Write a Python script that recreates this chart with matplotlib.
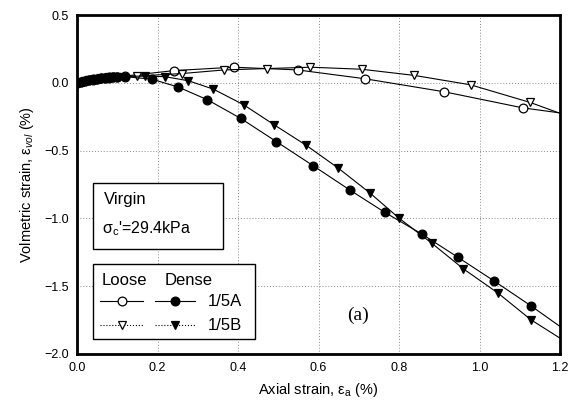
import matplotlib
matplotlib.use("Agg")
import matplotlib.pyplot as plt
from matplotlib.lines import Line2D
from matplotlib.patches import Rectangle

plt.rcParams['font.family'] = ['Liberation Sans', 'DejaVu Sans']
plt.rcParams['mathtext.fontset'] = 'custom'
plt.rcParams['mathtext.rm'] = 'Liberation Sans'
plt.rcParams['mathtext.it'] = 'Liberation Sans:italic'

# ---- data (axial strain %, volumetric strain %) ----
early_x = [0.0, 0.01, 0.02, 0.03, 0.04, 0.05, 0.06, 0.07, 0.08, 0.09, 0.10]

loose_a_x = early_x + [0.12, 0.241, 0.389, 0.548, 0.715, 0.912, 1.108, 1.2]
loose_a_y = [0.0, 0.008, 0.014, 0.019, 0.024, 0.028, 0.032, 0.036, 0.039, 0.042, 0.045,
             0.05, 0.09, 0.115, 0.095, 0.03, -0.066, -0.185, -0.222]

loose_b_x = early_x + [0.15, 0.26, 0.366, 0.472, 0.58, 0.707, 0.837, 0.978, 1.126, 1.2]
loose_b_y = [0.0, 0.006, 0.012, 0.018, 0.022, 0.027, 0.031, 0.035, 0.038, 0.041, 0.044,
             0.05, 0.068, 0.095, 0.105, 0.115, 0.10, 0.055, -0.015, -0.145, -0.225]

dense_a_x = early_x + [0.12, 0.186, 0.252, 0.324, 0.407, 0.495, 0.586, 0.678, 0.765,
                       0.856, 0.946, 1.037, 1.128, 1.2]
dense_a_y = [0.0, 0.009, 0.016, 0.022, 0.027, 0.031, 0.035, 0.038, 0.041, 0.043, 0.045,
             0.045, 0.027, -0.032, -0.125, -0.263, -0.433, -0.61, -0.791, -0.956,
             -1.114, -1.286, -1.463, -1.645, -1.797]

dense_b_x = early_x + [0.17, 0.219, 0.277, 0.339, 0.414, 0.49, 0.57, 0.649, 0.728, 0.80,
                       0.881, 0.96, 1.046, 1.128, 1.2]
dense_b_y = [0.0, 0.007, 0.013, 0.019, 0.024, 0.028, 0.032, 0.036, 0.04, 0.043, 0.046,
             0.05, 0.045, 0.015, -0.047, -0.162, -0.31, -0.462, -0.629, -0.813, -0.998,
             -1.182, -1.372, -1.551, -1.748, -1.883]

xticks = [0.0, 0.2, 0.4, 0.6, 0.8, 1.0, 1.2]
yticks = [-2.0, -1.5, -1.0, -0.5, 0.0, 0.5]

fig = plt.figure(figsize=(5.71, 4.03), dpi=100)
ax = fig.add_axes([77/571, 1-354/403, (560-77)/571, (354-15)/403])

ms = 6.3
lw = 0.8
series = [
    (loose_a_x, loose_a_y, 'o', 'white'),
    (loose_b_x, loose_b_y, 'v', 'white'),
    (dense_a_x, dense_a_y, 'o', 'black'),
    (dense_b_x, dense_b_y, 'v', 'black'),
]
for xs, ys, mk, fc in series:
    ax.plot(xs, ys, '-', color='black', lw=lw, marker=mk, ms=ms,
            mfc=fc, mec='black', mew=0.9, markevery=list(range(len(xs) - 1)))

ax.set_xlim(0, 1.2)
ax.set_ylim(-2.0, 0.5)
ax.set_xticks(xticks)
ax.set_yticks(yticks)
ax.set_xticklabels([f"{v:.1f}" for v in xticks])
ax.set_yticklabels([f"{v:.1f}".replace('-', '\u2212') for v in yticks])
ax.tick_params(length=0, labelsize=9, pad=6)
ax.grid(True, ls=(0, (1, 2)), color='#888888', lw=0.7)
for s in ax.spines.values():
    s.set_linewidth(2.0)

ax.set_xlabel("Axial strain, ε$_{\\rm a}$ (%)", fontsize=10.5, labelpad=5)
ax.set_ylabel("Volmetric strain, ε$_{vol}$ (%)", fontsize=10.5, labelpad=6)

# Condition box
ax.add_patch(Rectangle((0.033, 0.31), 0.269, 0.194, transform=ax.transAxes,
                       fill=True, fc='white', ec='black', lw=1.0, zorder=5))
ax.text(0.056, 0.455, "Virgin", transform=ax.transAxes, fontsize=12, va='center', zorder=6)
ax.text(0.052, 0.37, "σ$_{\\rm c}$'=29.4kPa", transform=ax.transAxes, fontsize=11.5,
        va='center', zorder=6)

# Legend box
ax.add_patch(Rectangle((0.033, 0.044), 0.336, 0.221, transform=ax.transAxes,
                       fill=True, fc='white', ec='black', lw=1.0, zorder=5))
ax.text(0.05, 0.218, "Loose", transform=ax.transAxes, fontsize=12, va='center', zorder=6)
ax.text(0.182, 0.218, "Dense", transform=ax.transAxes, fontsize=12, va='center', zorder=6)
rows = [(0.155, '-', 'o', "1/5A"), (0.085, ':', 'v', "1/5B")]
for yy, ls, mk, lab in rows:
    ax.add_line(Line2D([0.048, 0.137], [yy, yy], transform=ax.transAxes, ls=ls, color='black',
                       lw=lw, zorder=6))
    ax.add_line(Line2D([0.093], [yy], transform=ax.transAxes, marker=mk, ms=ms, mfc='white',
                       mec='black', mew=0.9, zorder=7))
    ax.add_line(Line2D([0.161, 0.245], [yy, yy], transform=ax.transAxes, ls=ls, color='black',
                       lw=lw, zorder=6))
    ax.add_line(Line2D([0.203], [yy], transform=ax.transAxes, marker=mk, ms=ms, mfc='black',
                       mec='black', mew=0.9, zorder=7))
    ax.text(0.271, yy, lab, transform=ax.transAxes, fontsize=12, va='center', zorder=6)

ax.text(0.56, 0.115, "(a)", transform=ax.transAxes, fontsize=14, va='center',
        family='Liberation Serif')

fig.savefig("out.png", dpi=100)
